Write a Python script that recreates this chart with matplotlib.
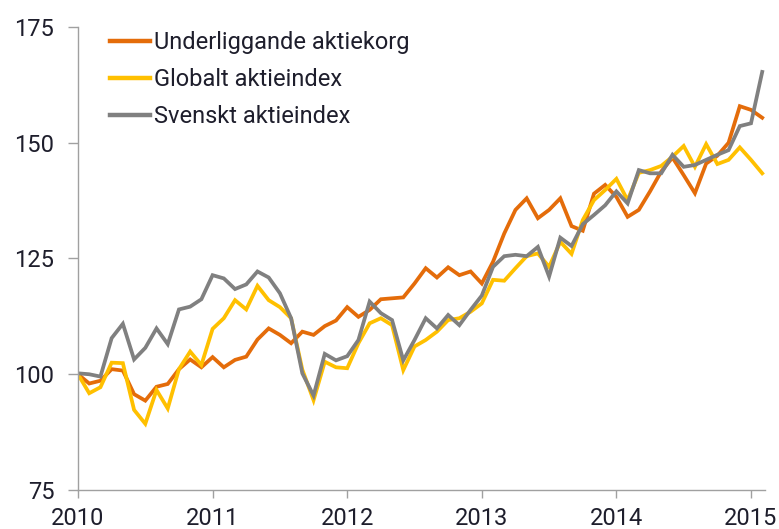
import matplotlib
matplotlib.use("Agg")
import matplotlib.pyplot as plt
import numpy as np

# Monthly data, Jan 2010 .. Feb 2015 (index = 100 at start)
start_year = 2010
underliggande = [100.0, 98.0, 98.6, 101.1, 100.8, 95.7, 94.3, 97.3, 97.9, 101.1, 103.2, 101.5,
                 103.7, 101.5, 103.1, 103.8, 107.5, 109.9, 108.5, 106.7, 109.2, 108.5, 110.4, 111.6,
                 114.5, 112.4, 113.9, 116.2, 116.4, 116.6, 119.6, 122.9, 120.9, 123.1, 121.4, 122.2,
                 119.6, 124.3, 130.4, 135.5, 138.0, 133.7, 135.5, 138.0, 132.0, 131.0, 139.0, 140.9,
                 138.3, 134.0, 135.5, 139.5, 143.8, 146.8, 143.0, 139.1, 145.5, 147.2, 150.0, 157.9,
                 157.1, 155.4]
globalt = [100.0, 95.9, 97.2, 102.5, 102.4, 92.3, 89.3, 96.6, 92.6, 101.1, 104.9, 102.0,
           109.8, 112.1, 116.0, 114.0, 119.1, 116.0, 114.5, 112.1, 101.0, 94.4, 102.7, 101.5,
           101.3, 106.7, 111.0, 112.1, 110.6, 100.9, 106.0, 107.4, 109.2, 111.7, 112.1, 113.5,
           115.3, 120.4, 120.2, 122.9, 125.5, 126.1, 123.2, 128.6, 126.0, 133.3, 137.6, 139.8,
           142.2, 137.6, 143.5, 144.1, 145.0, 147.0, 149.3, 144.8, 149.7, 145.4, 146.3, 149.0,
           146.3, 143.4]
svenskt = [100.2, 100.0, 99.5, 107.8, 110.9, 103.2, 105.7, 109.9, 106.5, 114.0, 114.6, 116.2,
           121.4, 120.7, 118.4, 119.4, 122.2, 120.9, 117.5, 112.1, 100.2, 95.4, 104.4, 103.0,
           103.9, 107.4, 115.7, 113.2, 111.7, 103.0, 107.4, 112.1, 109.9, 112.8, 110.6, 113.9,
           117.0, 123.2, 125.5, 125.8, 125.5, 127.5, 121.1, 129.5, 127.7, 132.4, 134.4, 136.5,
           139.5, 136.9, 144.1, 143.4, 143.4, 147.4, 144.8, 145.2, 146.3, 147.4, 148.4, 153.6,
           154.2, 165.3]
series_labels = ["Underliggande aktiekorg", "Globalt aktieindex", "Svenskt aktieindex"]
year_ticks = [2010, 2011, 2012, 2013, 2014, 2015]
y_ticks = [75, 100, 125, 150, 175]

x = start_year + np.arange(len(underliggande)) / 12.0

plt.rcParams['font.family'] = ['Roboto', 'DejaVu Sans']
text_color = '#1e1e2c'
axis_color = '#a0a0a0'

fig = plt.figure(figsize=(7.79, 5.29), dpi=100)
ax = fig.add_axes([78/779, 1 - 490/529, (765 - 78)/779, (490 - 27)/529])

colors = ['#E46C0A', '#FFC000', '#808080']
for vals, col, lab in zip([underliggande, globalt, svenskt], colors, series_labels):
    ax.plot(x, vals, color=col, lw=2.7, label=lab, solid_joinstyle='miter')

ax.set_xlim(2010, 2015.104)
ax.set_ylim(75, 175)
ax.set_xticks(year_ticks)
ax.set_xticklabels([str(y) for y in year_ticks])
ax.set_yticks(y_ticks)

for s in ['top', 'right']:
    ax.spines[s].set_visible(False)
for s in ['left', 'bottom']:
    ax.spines[s].set_color(axis_color)
    ax.spines[s].set_linewidth(1.0)

ax.tick_params(axis='y', direction='out', length=7, width=1.0, color=axis_color,
               labelsize=17, labelcolor=text_color, pad=10)
ax.tick_params(axis='x', direction='out', length=6, width=1.0, color=axis_color,
               labelsize=17, labelcolor=text_color, pad=6)

leg = ax.legend(loc='upper left', bbox_to_anchor=(110/779, 1 - 31/529),
                bbox_transform=fig.transFigure, frameon=False, fontsize=17,
                handlelength=1.7, handletextpad=0.18, labelspacing=0.6, borderpad=0,
                borderaxespad=0)
for t in leg.get_texts():
    t.set_color(text_color)
for h in leg.get_lines():
    h.set_linewidth(3.2)

fig.savefig('out.png', dpi=100)
